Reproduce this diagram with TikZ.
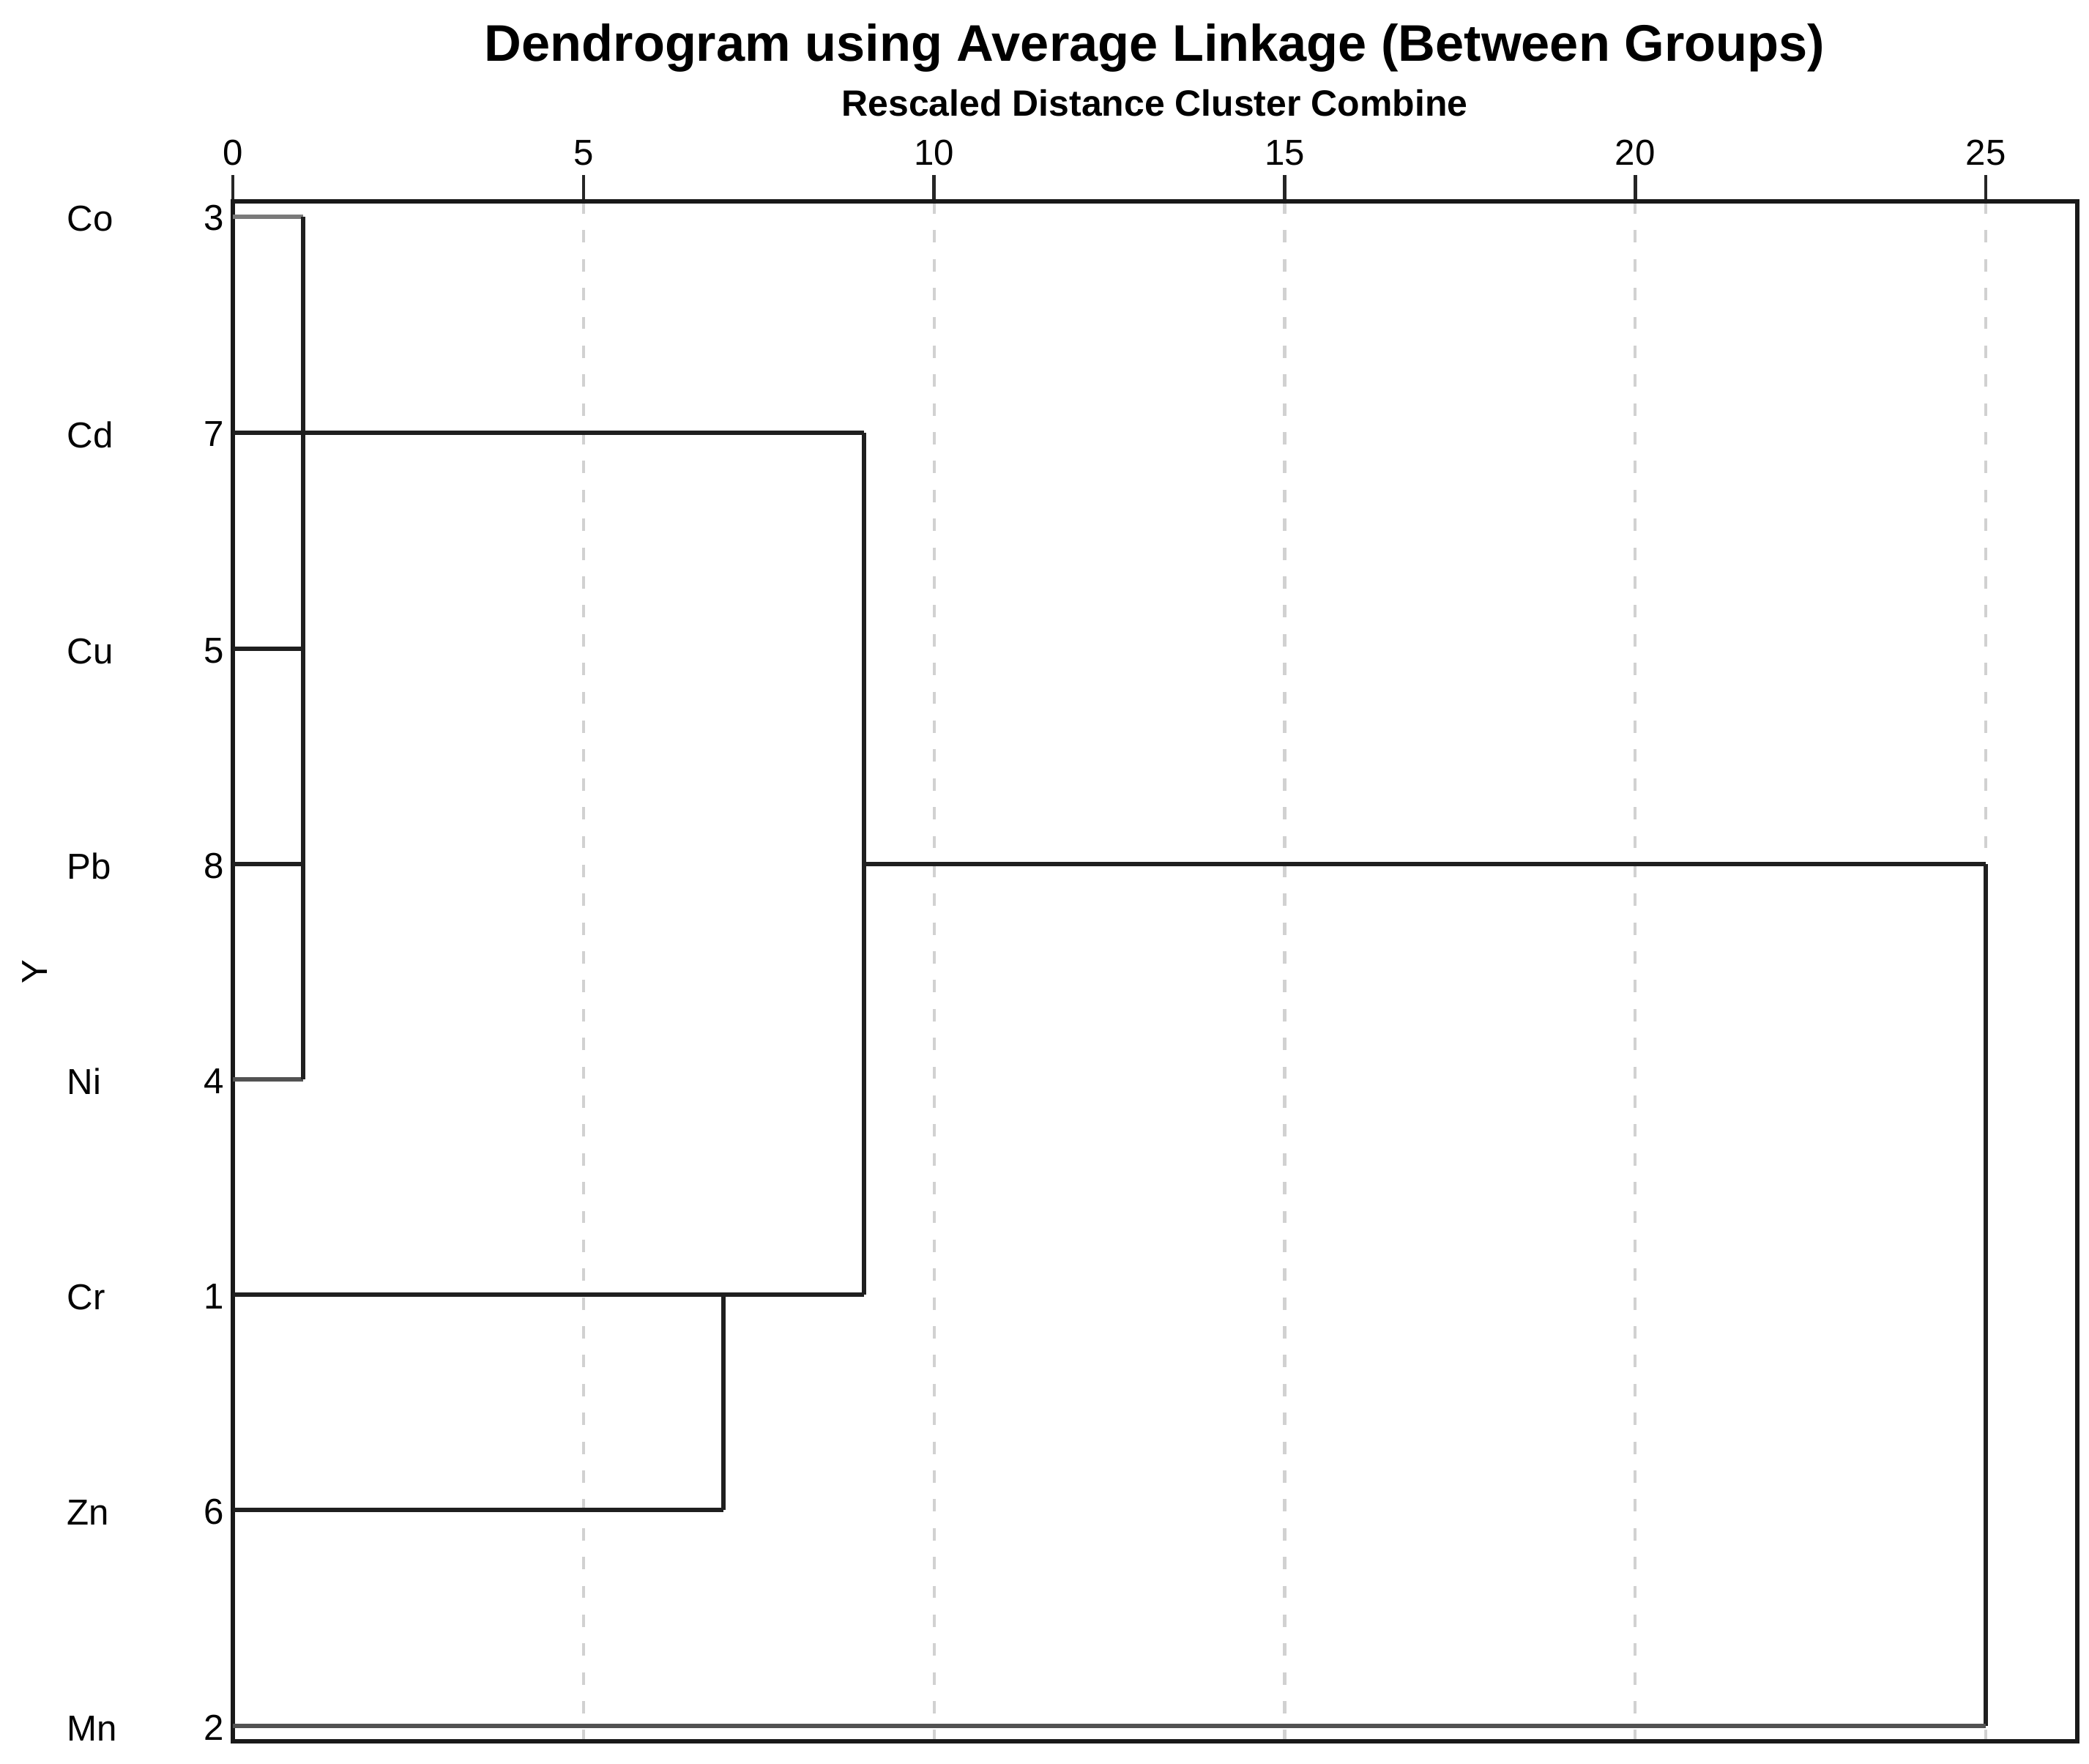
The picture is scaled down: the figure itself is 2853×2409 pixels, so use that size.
\documentclass[tikz,border=0pt]{standalone}
\usepackage{fontspec}
\setmainfont{Liberation Sans}
\begin{document}
\begin{tikzpicture}[x=0.01cm,y=-0.01cm,
  frame/.style={line width=1.8pt,draw=black!90},
  link/.style={line width=1.75pt,draw=black!88},
  lightlink/.style={line width=1.9pt,draw=black!52},
  midlink/.style={line width=1.8pt,draw=black!68},
  gridline/.style={line width=1.2pt,draw=black!18,dash pattern=on 4.8pt off 6.4pt},
  tickmark/.style={line width=1.3pt,draw=black!85},
  lab/.style={font=\fontsize{14}{16}\selectfont,inner sep=0pt},
  ttl/.style={font=\fontsize{20}{24}\selectfont\bfseries,inner sep=0pt},
  subttl/.style={font=\fontsize{14.2}{16}\selectfont\bfseries,inner sep=0pt}]
\useasboundingbox (0,0) rectangle (2853,2409);

% frame corners
\coordinate (TL) at (318,275);
\coordinate (TR) at (2837,275);
\coordinate (BL) at (318,2378);
\coordinate (BR) at (2837,2378);

% titles
\node[ttl,anchor=base] (title) at (1577,84) {Dendrogram using Average Linkage (Between Groups)};
\node[subttl,anchor=base] (subtitle) at (1577,159) {Rescaled Distance Cluster Combine};

% grid lines and ticks
\foreach \v/\xx in {0/318,5/796.8,10/1275.6,15/1754.4,20/2233.2,25/2712}{
  \node[lab,anchor=base] (t\v) at (\xx,226) {\v};
  \coordinate (g\v top) at (\xx,275);
  \coordinate (g\v bot) at (\xx,2378);
  \coordinate (g\v tk) at (\xx,239);
  \draw[tickmark] (g\v tk) -- (g\v top);
}
\foreach \v in {5,10,15,20,25}{
  \draw[gridline] (g\v top) -- (g\v bot);
}

% frame
\draw[frame] (TL) -- (TR) -- (BR) -- (BL) -- cycle;

% leaves: name/number/y
\foreach \el/\num/\yy in {Co/3/296,Cd/7/591,Cu/5/886,Pb/8/1180,Ni/4/1474,Cr/1/1768,Zn/6/2062,Mn/2/2357}{
  \node[lab,anchor=base west] (n\el) at (91,\yy+20) {\el};
  \node[lab,anchor=base east] (i\el) at (307,\yy+19) {\num};
  \coordinate (L\el) at (318,\yy);
}

% Y axis label
\node[lab,rotate=90] (ylab) at (48,1327) {Y};

% join coordinates
\coordinate (a1) at (413.8,296);   % Co at d=1
\coordinate (a2) at (413.8,1474);  % Ni at d=1
\coordinate (aCu) at (413.8,886);
\coordinate (aPb) at (413.8,1180);
\coordinate (c1) at (1179.8,591);  % cluster A at d=9
\coordinate (b1) at (988.3,1768);  % Cr at d=7
\coordinate (b2) at (988.3,2062);  % Zn at d=7
\coordinate (c2) at (1179.8,1768); % cluster B at d=9
\coordinate (c3) at (1179.8,1180); % merged at d=9
\coordinate (e1) at (2712,1180);   % top of final join
\coordinate (e2) at (2712,2357);   % Mn at d=25

% dendrogram
\draw[lightlink] (LCo) -- (a1);
\draw[link] (LCu) -- (aCu);
\draw[link] (LPb) -- (aPb);
\draw[midlink] (LNi) -- (a2);
\draw[link] (a1) -- (a2);
\draw[link] (LCd) -- (c1);
\draw[link] (LCr) -- (b1);
\draw[link] (LZn) -- (b2);
\draw[link] (b1) -- (b2);
\draw[link] (b1) -- (c2);
\draw[link] (c1) -- (c2);
\draw[link] (c3) -- (e1);
\draw[link] (e1) -- (e2);
\draw[midlink] (LMn) -- (e2);
\end{tikzpicture}
\end{document}
